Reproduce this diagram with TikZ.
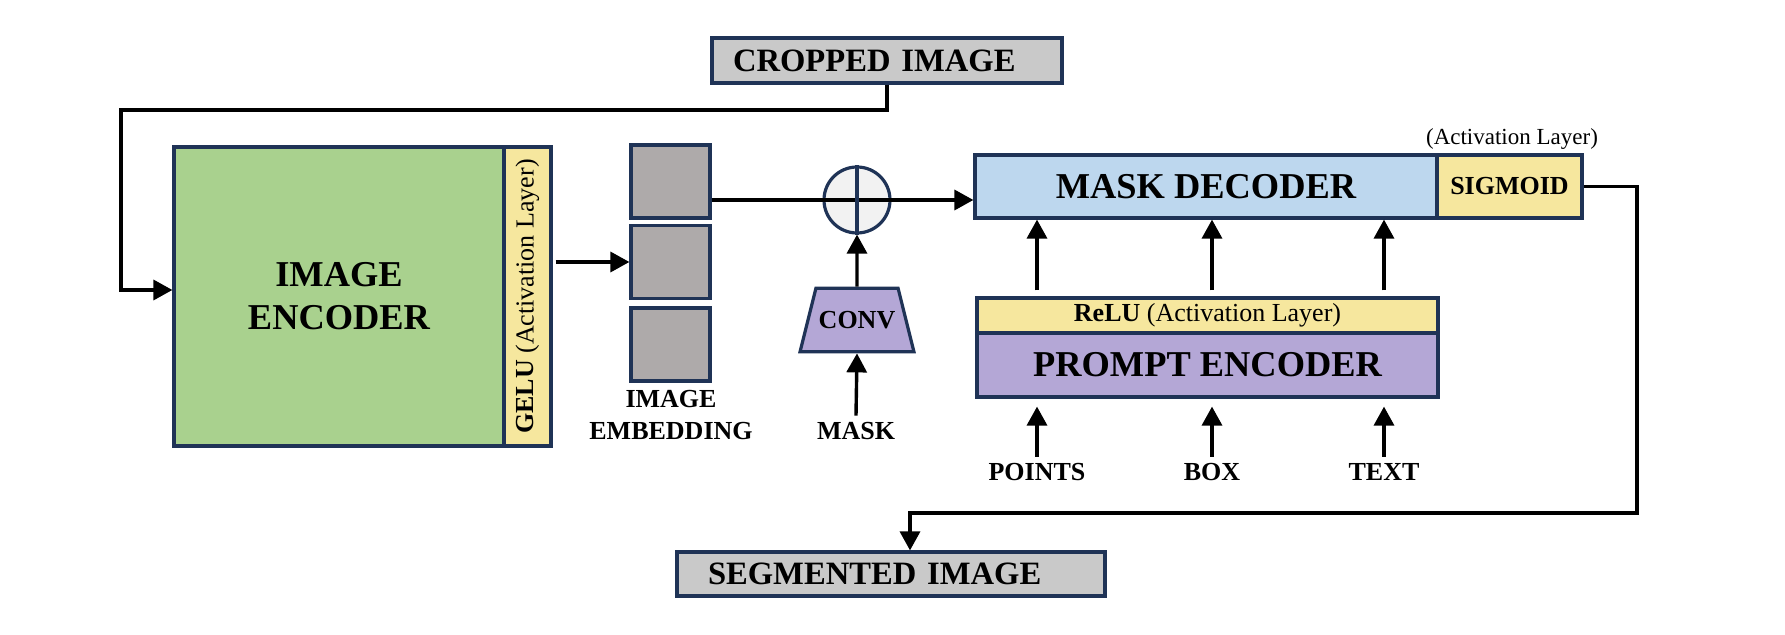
\documentclass[tikz,border=0pt]{standalone}
\usepackage{fontspec}
\setmainfont{Liberation Serif}
\usetikzlibrary{arrows.meta,shapes.geometric}
\definecolor{navy}{HTML}{1F3356}
\definecolor{encgreen}{HTML}{A9D18E}
\definecolor{actyellow}{HTML}{F6E79E}
\definecolor{embgray}{HTML}{AEAAAA}
\definecolor{imggray}{HTML}{C9C9C9}
\definecolor{decblue}{HTML}{BDD7EE}
\definecolor{prmpurple}{HTML}{B4A7D6}
\definecolor{plusfill}{HTML}{F2F2F2}

\begin{document}
\begin{tikzpicture}[x=0.5pt,y=-0.5pt,>={Triangle[length=9.5pt,width=10pt]},
  blk/.style={draw=navy,line width=1.6pt,inner sep=0pt},
  big/.style={font=\fontsize{18.2}{21.5}\selectfont\bfseries,align=center},
  lbl/.style={font=\fontsize{13}{16}\selectfont\bfseries,align=center},
  conn/.style={line width=1.7pt}]
  \useasboundingbox (0,0) rectangle (1785,635);

  % input and output images
  \node[blk,fill=imggray,minimum height=22.5pt,text width=154pt,inner xsep=10.5pt,
        align=left,font=\fontsize{16.3}{18}\selectfont\bfseries] (crop) at (887,60.5) {CROPPED IMAGE};
  \node[blk,fill=imggray,minimum height=22pt,text width=183pt,inner xsep=15.5pt,
        align=left,font=\fontsize{16.3}{18}\selectfont\bfseries] (seg) at (891,574) {SEGMENTED IMAGE};

  % image encoder
  \node[blk,fill=encgreen,minimum width=165pt,minimum height=149.5pt,big] (enc) at (339,296.5) {IMAGE\\ENCODER};
  \node[blk,fill=actyellow,minimum width=23.5pt,minimum height=149.5pt] (gelu) at (527.5,296.5)
    {\rotatebox{90}{\fontsize{13}{16}\selectfont\textbf{GELU} (Activation Layer)}};

  \foreach \i/\y in {1/181.5,2/262,3/344.5}
    \node[blk,fill=embgray,minimum width=39.5pt,minimum height=36.5pt] (emb\i) at (670.5,\y) {};
  \node[lbl] (emblbl) at (671,415.5) {IMAGE\\EMBEDDING};

  % mask branch
  \node[blk,circle,fill=plusfill,minimum size=33pt] (plus) at (857,200) {};
  \node[blk,trapezium,trapezium left angle=76,trapezium right angle=76,
        inner xsep=1.4pt,inner ysep=11.5pt,fill=prmpurple,lbl] (conv) at (857,320) {CONV};
  \node[lbl,anchor=base] (mask) at (856,440) {MASK};

  % decoder and prompt encoder
  \node[blk,fill=decblue,minimum width=231pt,minimum height=31.5pt,big] (dec) at (1206,186.5) {MASK DECODER};
  \node[blk,fill=actyellow,minimum width=72.5pt,minimum height=31.5pt,lbl] (sig) at (1509.5,186.5) {SIGMOID};
  \node[anchor=base,font=\fontsize{11.5}{13}\selectfont] (siglbl) at (1512,145) {(Activation Layer)};
  \node[blk,fill=prmpurple,minimum width=230.5pt,minimum height=32pt,big] (prm) at (1207.5,365) {PROMPT ENCODER};
  \node[blk,fill=actyellow,minimum width=230.5pt,minimum height=17.5pt,font=\fontsize{13}{16}\selectfont] (relu) at (1207.5,315.5)
    {\textbf{ReLU} (Activation Layer)};

  \coordinate (c1) at (121,110);
  \coordinate (c2) at (1637,513);

  % connectors
  \draw[conn,->] (crop.south) |- (c1) |- ([yshift=3.25pt]enc.west);
  \draw[conn,->] ([xshift=1.5pt]gelu.east |- emb2.west) -- (emb2.west);
  \draw[conn,->] (emb1.east |- plus) -- (dec.west |- plus);
  \draw[navy,line width=1.6pt] (plus.north) -- (plus.south);
  \draw[conn,->] (conv.north) -- (plus.south);
  \draw[conn,->] (mask.north) -- (conv.south);
  \draw[conn,->] (sig.east) -| (c2) -| ([xshift=9.5pt]seg.north);

  \foreach \n/\x/\t in {points/1037/POINTS,bbox/1212/BOX,txt/1384/TEXT}
  {
    \node[lbl,anchor=base] (\n) at (\x,481) {\t};
    \draw[conn,->,shorten >=4pt] (\n.north) -- (\n |- prm.south);
    \draw[conn,->,shorten <=3pt] (\n |- relu.north) -- (\n |- dec.south);
  }
\end{tikzpicture}
\end{document}
